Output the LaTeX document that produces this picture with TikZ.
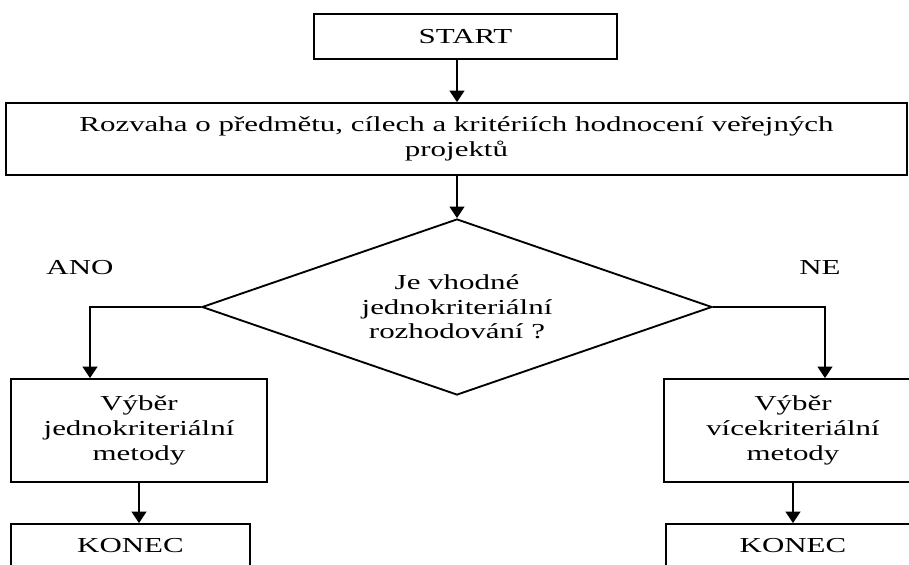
\documentclass[tikz,border=0pt]{standalone}
\usepackage{fontspec}
\setmainfont{Liberation Serif}[FakeStretch=1.45]
\usetikzlibrary{shapes.geometric,arrows.meta}

\begin{document}
\begin{tikzpicture}[x=0.75pt,y=-0.75pt,
  every node/.style={font=\fontsize{16pt}{18.5pt}\selectfont, align=center, inner sep=0pt},
  box/.style={draw, line width=1.4pt, rectangle},
  decision/.style={draw, line width=1.4pt, diamond, aspect=2.9},
  flow/.style={line width=1.4pt, -{Triangle[length=8.5pt,width=11pt]}}]

\useasboundingbox (0,0) rectangle (909,564);
\clip (0,0) rectangle (909,564);

% boxes
\node[box, minimum width=227.25pt, minimum height=33.75pt] (start) at (465.5,36.5) {START};
\node[box, minimum width=675.75pt, minimum height=54pt] (rozvaha) at (456.5,139)
  {Rozvaha o předmětu, cílech a kritériích hodnocení veřejných\\projektů};
\node[decision, minimum width=382.5pt, minimum height=132pt] (dec) at (457,307)
  {Je vhodné\\jednokriteriální\\rozhodování ?};
\node[box, minimum width=192pt, minimum height=77.25pt] (lbox) at (139,430.5)
  {Výběr\\jednokriteriální\\metody};
\node[box, minimum width=193.5pt, minimum height=77.25pt] (rbox) at (793,430.5)
  {Výběr\\vícekriteriální\\metody};
\node[box, minimum width=179.25pt, minimum height=33pt] (lend) at (130.5,546) {KONEC};
\node[box, minimum width=190.5pt, minimum height=33pt] (rend) at (793,546) {KONEC};

% branch labels
\node (ano) at (80,268) {ANO};
\node (ne) at (820,268) {NE};

% turning points of the branches
\coordinate (lturn) at (90,307);
\coordinate (rturn) at (825,307);

% connectors
\draw[flow] (start.south -| dec.north) -- (rozvaha.north -| dec.north);
\draw[flow] (rozvaha.south -| dec.north) -- (dec.north);
\draw[flow] (dec.west) -- (lturn) -- (lturn |- lbox.north);
\draw[flow] (dec.east) -- (rturn) -- (rturn |- rbox.north);
\draw[flow] (lbox.south) -- (lbox.south |- lend.north);
\draw[flow] (rbox.south) -- (rbox.south |- rend.north);
\end{tikzpicture}
\end{document}
